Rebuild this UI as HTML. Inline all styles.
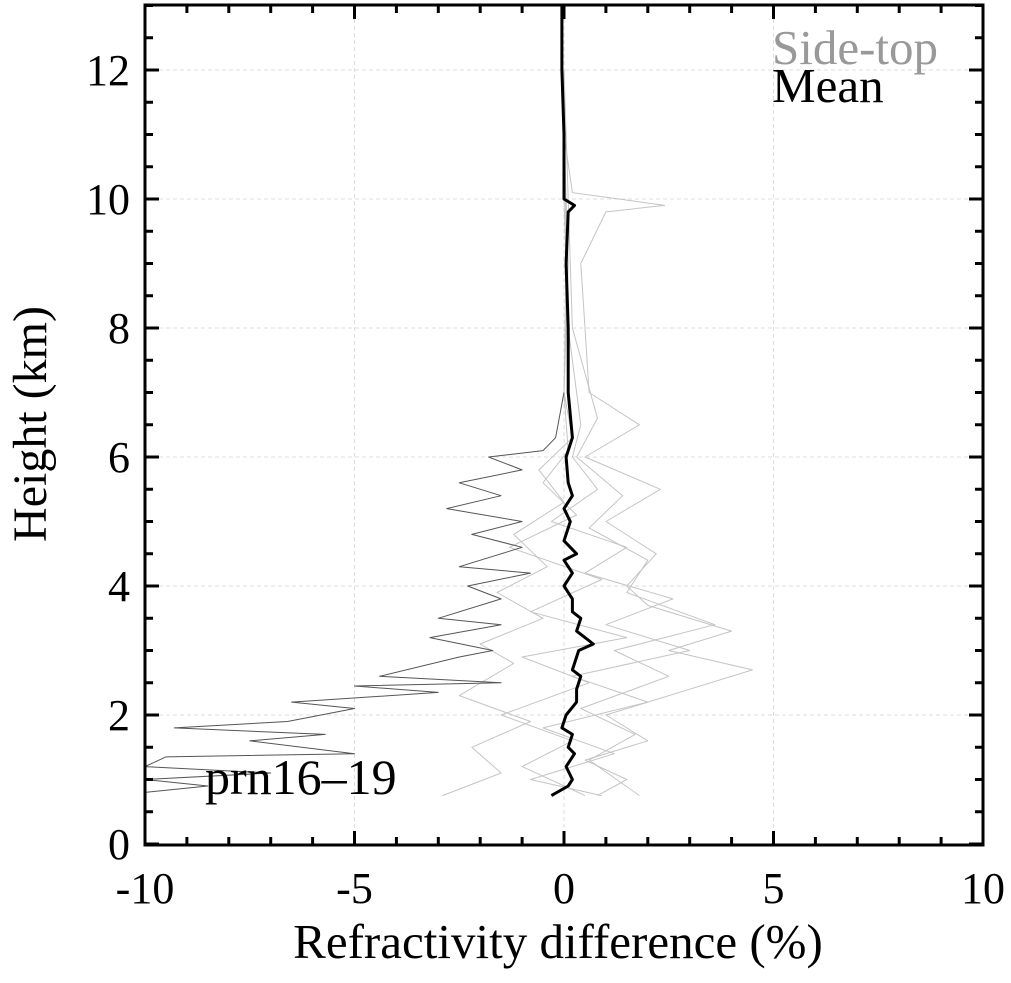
<!DOCTYPE html>
<html><head><meta charset="utf-8"><style>
body{margin:0;background:#fff;}
svg text{font-family:"Liberation Serif",serif;}
</style></head><body>
<svg id="chart" width="1011" height="978" xmlns="http://www.w3.org/2000/svg"><defs><clipPath id="pc"><rect x="145" y="5" width="838" height="840"/></clipPath></defs></svg>
<script>
const xTicks=[-10,-5,0,5,10];
const yTicks=[0,2,4,6,8,10,12];
const meanH=[0.75,0.9,1.0,1.2,1.4,1.5,1.7,1.8,2.0,2.2,2.4,2.6,2.7,3.0,3.1,3.3,3.5,3.6,3.8,4.0,4.2,4.4,4.5,4.7,5.0,5.2,5.4,5.6,6.0,6.3,7,8,9,9.8,9.9,10.0,11,12,13];
const meanX=[-0.3,0.1,0.2,0.05,0.25,0.1,0.2,-0.05,0.05,0.3,0.3,0.4,0.2,0.35,0.7,0.3,0.4,0.2,0.2,0.0,0.2,0.0,0.3,0.0,0.15,0.0,0.2,0.1,0.05,0.2,0.1,0.1,0.05,0.1,0.25,0.0,0.0,-0.05,-0.05];
const outH=[0.8,0.9,1.0,1.1,1.2,1.35,1.4,1.6,1.7,1.8,1.9,2.1,2.2,2.35,2.45,2.5,2.6,2.9,3.0,3.2,3.4,3.5,3.8,4.0,4.2,4.3,4.6,4.8,5.0,5.2,5.4,5.6,5.8,6.0,6.1,6.3,7];
const outX=[-10,-8.5,-10,-7,-10,-9.5,-5,-7.5,-5.7,-9.3,-6.6,-5,-6.5,-3,-5,-1.5,-4.4,-2.5,-1.7,-3.2,-1.5,-3.0,-1.5,-2.3,-0.8,-2.5,-1,-2.2,-1.0,-2.8,-1.5,-2.5,-1,-1.8,-0.5,-0.2,0];
const g1H=[0.75,1.0,1.3,1.6,2.0,2.4,2.7,3.0,3.3,3.7,4.0,4.5,5.0,5.5,6.0,6.5,7,8,9,9.8,9.9,10.1,11];
const g1X=[0.8,1.5,0.5,2.0,1.0,3.0,4.5,2.5,4.0,2.0,1.5,2.2,1.0,2.3,0.5,1.8,0.6,0.5,0.4,1.0,2.4,0.2,0.0];
const g2H=[0.75,1.1,1.5,1.9,2.3,2.8,3.1,3.5,3.9,4.3,4.8,5.3,5.8,6.3,7,9,11];
const g2X=[-2.9,-1.5,-2.2,-0.8,-2.5,-1.2,-2.0,-0.5,-1.6,-0.4,-1.2,0.0,-0.6,0.2,0.0,0.1,0.0];
const g3H=[0.75,1.0,1.4,1.8,2.2,2.6,3.0,3.4,3.8,4.2,4.6,5.0,5.5,6.0,6.5,8,10,12];
const g3X=[0.9,-0.8,1.2,-0.5,2.0,0.2,3.0,1.0,2.6,0.5,1.5,-0.3,0.8,0.2,0.4,0.1,0.0,0.0];
const g4H=[0.75,1.2,1.6,2.0,2.5,2.9,3.2,3.6,4.1,4.6,5.1,5.6,6.1,7,9,12];
const g4X=[0.5,-1.0,0.2,-1.5,0.6,-1.0,1.5,-0.8,0.9,-1.3,0.3,-0.5,0.1,0.0,0.05,0.0];
const g5H=[0.75,1.3,1.7,2.1,2.6,3.0,3.4,3.9,4.4,4.9,5.4,6.0,6.6,8,10,12];
const g5X=[1.8,0.6,1.7,0.4,2.5,1.2,3.6,1.5,2.0,0.6,1.4,0.3,0.8,0.2,0.1,0.0];
const L=145,R=983,T=5,B=845;
const xs=v=>L+(v+10)/20*(R-L);
const ys=h=>844-h*64.5;
const svg=document.getElementById('chart');
const NS='http://www.w3.org/2000/svg';
function mk(tag,attrs){const e=document.createElementNS(NS,tag);for(const k in attrs)e.setAttribute(k,attrs[k]);svg.appendChild(e);return e;}
xTicks.slice(1,-1).forEach(v=>{const e=mk('line',{x1:xs(v),x2:xs(v),y1:T,y2:B,stroke:'#ddd','stroke-dasharray':'4,3'});

});
yTicks.slice(1).forEach(v=>{const e=mk('line',{x1:L,x2:R,y1:ys(v),y2:ys(v),stroke:'#ddd','stroke-dasharray':'4,3'});

});
function line(H,X,color,w,name){const d=H.map((h,i)=>(i?'L':'M')+xs(X[i]).toFixed(1)+','+ys(h).toFixed(1)).join('');
const p=mk('path',{d:d,fill:'none',stroke:color,'stroke-width':w,'stroke-linejoin':'round','clip-path':'url(#pc)'});

}
line(g1H,g1X,'#c4c4c4',1,'side-top-profile-1');
line(g2H,g2X,'#c4c4c4',1,'side-top-profile-2');
line(g3H,g3X,'#c4c4c4',1,'side-top-profile-3');
line(g4H,g4X,'#c4c4c4',1,'side-top-profile-4');
line(g5H,g5X,'#c4c4c4',1,'side-top-profile-5');
line(outH,outX,'#555',1,'prn16-19-profile');
line(meanH,meanX,'#000',3,'mean-profile');
const fr=mk('rect',{x:L,y:T,width:R-L,height:B-T,fill:'none',stroke:'#000','stroke-width':3});


for(let v=-10;v<=10;v++){const len=v%5===0?14:8;
[[B,-1],[T,1]].forEach(([y0,s])=>{const t=mk('line',{x1:xs(v),x2:xs(v),y1:y0,y2:y0+s*len,stroke:'#000','stroke-width':3});

});}
for(let h=0;h<=13;h+=0.5){const len=h%2===0?14:8;
[[L,1],[R,-1]].forEach(([x0,s])=>{const t=mk('line',{x1:x0,x2:x0+s*len,y1:ys(h),y2:ys(h),stroke:'#000','stroke-width':3});

});}
xTicks.forEach(v=>{const t=mk('text',{x:xs(v),y:903,'font-size':44,'text-anchor':'middle'});t.textContent=v;

});
yTicks.forEach(v=>{const t=mk('text',{x:130,y:ys(v)+15,'font-size':44,'text-anchor':'end'});t.textContent=v;

});
</script>
<svg width="1011" height="978" style="position:absolute;left:0;top:0">
<text x="558" y="958" font-size="49" text-anchor="middle">Refractivity difference (%)</text>
<text transform="translate(46,424) rotate(-90)" font-size="48" text-anchor="middle">Height (km)</text>
<text x="772" y="64" font-size="49" fill="#999">Side-top</text>
<text x="772" y="102" font-size="49" fill="#000">Mean</text>
<text x="205" y="794" font-size="50">prn16–19</text>
</svg>
</body></html>
